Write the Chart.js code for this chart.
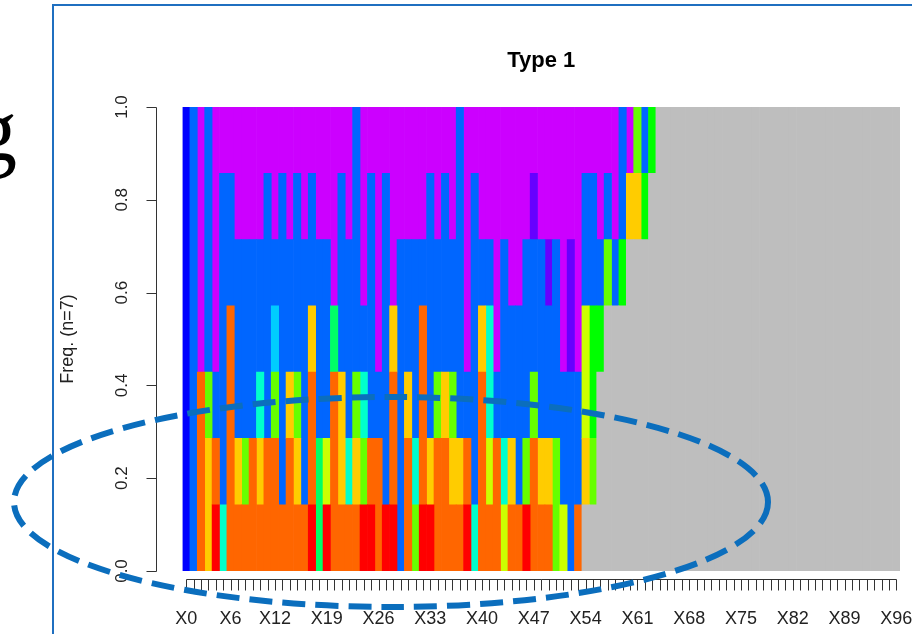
<!DOCTYPE html>
<html>
<head>
<meta charset="utf-8">
<title>Type 1</title>
<script src="https://cdn.jsdelivr.net/npm/chart.js@4.4.1/dist/chart.umd.min.js"></script>
<style>
  html, body { margin: 0; padding: 0; background: #fff; }
  #wrap { position: relative; width: 912px; height: 634px; overflow: hidden; }
  canvas { display: block; }
</style>
</head>
<body>
<div id="wrap"><canvas id="chart" width="912" height="634"></canvas></div>
<script>
// State alphabet, in stacking order (missing first), with its rainbow palette
const stateCodes  = ['*', 'a', 'b', 'c', 'd', 'e', 'f', 'g', 'h', 'i', 'j', 'k', 'l', 'm'];
const stateColors = ['#BEBEBE', '#FF0000', '#FF6600', '#FFCC00', '#CCFF00', '#66FF00', '#00FF00',
                     '#00FF66', '#00FFCC', '#00CCFF', '#0066FF', '#0000FF', '#6600FF', '#CC00FF'];

// Number of sequences
const nSeq = 7;

// States observed at each position X0..X96 (one character per sequence)
const positionStates = [
  'kkkkkkk', 'jjjjjjj', 'bbbmmmm', 'ccejjjj', 'abjmmmm', 'hjjjjjm', 'bbbbjjm', 'bcjjjmm',
  'bejjjmm', 'bbjjjmm', 'bchjjmm', 'bbjjjjm', 'bbeijmm', 'bjjjjjm', 'bbcjjmm', 'bcejjjm',
  'bjjjjmm', 'abbcjjm', 'ggjjjmm', 'adjjjmm', 'bbbgmmm', 'bccjjjm', 'bhjjjmm', 'bcejjjj',
  'aehjmmm', 'abjjjjm', 'bbjmmmm', 'ajjjjjm', 'abbcmmm', 'jjjjjmm', 'bbcjjmm', 'ehjjjmm',
  'abbbjmm', 'acjjjjm', 'bbejjmm', 'bbcjjjm', 'bcejjmm', 'bcjjjjj', 'abjmmmm', 'hjjjjjm',
  'bbbcjmm', 'bdhhjmm', 'bbjmmmm', 'dhjjjmm', 'bcjjmmm', 'bjjjmmm', 'aejjjmm', 'bbejjlm',
  'bcjjjmm', 'bcjjlmm', 'eejjjmm', 'djjmmmm', 'jjjllmm', 'bjjmmmm', '*cddjjm', '*effjjm',
  '***fjmm', '****ejm', '****jmm', '****fjj', '*****cm', '*****ce', '*****fj', '******f',
  '*******', '*******', '*******', '*******', '*******', '*******', '*******', '*******',
  '*******', '*******', '*******', '*******', '*******', '*******', '*******', '*******',
  '*******', '*******', '*******', '*******', '*******', '*******', '*******', '*******',
  '*******', '*******', '*******', '*******', '*******', '*******', '*******', '*******',
  '*******'
];

// Position names (categories)
const positions = positionStates.map((_, i) => 'X' + i);

// Labelled ticks on the position axis
const xTickLabels = ['X0', 'X6', 'X12', 'X19', 'X26', 'X33', 'X40', 'X47', 'X54',
                     'X61', 'X68', 'X75', 'X82', 'X89', 'X96'];
// Ticks on the frequency axis
const yTicks = [0, 0.2, 0.4, 0.6, 0.8, 1.0];

// Cross-sectional state frequencies, one dataset per state
const datasets = stateCodes.map((code, s) => ({
  label: code,
  data: positionStates.map(col => {
    const count = col.split('').filter(c => c === code).length;
    return count ? count / nSeq : null;
  }),
  backgroundColor: stateColors[s],
  borderWidth: 0,
  barPercentage: 1,
  categoryPercentage: 1,
  stack: 'freq'
}));

const AXIS_FONT = '"Liberation Sans", Arial, sans-serif';

// R-style axes, title, and slide decorations
const rStyle = {
  id: 'rStyle',
  afterDraw(chart) {
    const { ctx, chartArea, scales: { x, y } } = chart;
    ctx.save();

    // Title
    ctx.fillStyle = '#000';
    ctx.font = 'bold 22px ' + AXIS_FONT;
    ctx.textAlign = 'center';
    ctx.textBaseline = 'alphabetic';
    ctx.fillText('Type 1', (chartArea.left + chartArea.right) / 2, 67);

    ctx.strokeStyle = '#333';
    ctx.lineWidth = 1;
    ctx.fillStyle = '#222';

    // Frequency axis
    const yAxisX = Math.round(chartArea.left - 27) + 0.5;
    const y0 = y.getPixelForValue(0), y1 = y.getPixelForValue(1);
    ctx.beginPath();
    ctx.moveTo(yAxisX, Math.round(y0) + 0.5);
    ctx.lineTo(yAxisX, Math.round(y1) + 0.5);
    yTicks.forEach(v => {
      const py = Math.round(y.getPixelForValue(v)) + 0.5;
      ctx.moveTo(yAxisX - 10, py);
      ctx.lineTo(yAxisX, py);
    });
    ctx.stroke();
    ctx.font = '17px ' + AXIS_FONT;
    ctx.textAlign = 'center';
    ctx.textBaseline = 'middle';
    yTicks.forEach(v => {
      const py = y.getPixelForValue(v);
      ctx.save();
      ctx.translate(yAxisX - 34, py);
      ctx.rotate(-Math.PI / 2);
      ctx.fillText(v.toFixed(1), 0, 0);
      ctx.restore();
    });
    ctx.save();
    ctx.font = '18px ' + AXIS_FONT;
    ctx.translate(68, (y0 + y1) / 2);
    ctx.rotate(-Math.PI / 2);
    ctx.fillText('Freq. (n=' + nSeq + ')', 0, 0);
    ctx.restore();

    // Position axis
    const xAxisY = Math.round(chartArea.bottom + 8) + 0.5;
    const first = Math.round(x.getPixelForValue(0)) + 0.5;
    const last = Math.round(x.getPixelForValue(positions.length - 1)) + 0.5;
    ctx.beginPath();
    ctx.moveTo(first, xAxisY);
    ctx.lineTo(last, xAxisY);
    positions.forEach((_, i) => {
      const px = Math.round(x.getPixelForValue(i)) + 0.5;
      ctx.moveTo(px, xAxisY);
      ctx.lineTo(px, xAxisY + 11);
    });
    ctx.stroke();
    ctx.font = '18px ' + AXIS_FONT;
    ctx.textAlign = 'center';
    ctx.textBaseline = 'middle';
    positions.forEach((name, i) => {
      if (xTickLabels.includes(name)) {
        ctx.fillText(name, x.getPixelForValue(i), 619);
      }
    });

    // Slide frame
    ctx.strokeStyle = '#1F6FC0';
    ctx.lineWidth = 2;
    ctx.beginPath();
    ctx.moveTo(53, 634);
    ctx.lineTo(53, 5);
    ctx.lineTo(912, 5);
    ctx.stroke();

    // Slide heading fragment at the left edge
    ctx.fillStyle = '#000';
    ctx.font = '88px "Liberation Serif", "Times New Roman", serif';
    ctx.textAlign = 'left';
    ctx.textBaseline = 'alphabetic';
    ctx.fillText('g', -27, 160);

    // Dashed highlight ellipse
    ctx.strokeStyle = '#0B6EBD';
    ctx.lineWidth = 6;
    ctx.setLineDash([23, 10]);
    ctx.beginPath();
    ctx.ellipse(391, 502, 377, 105, 0, 0, Math.PI * 2);
    ctx.stroke();

    ctx.restore();
  }
};

new Chart(document.getElementById('chart'), {
  type: 'bar',
  data: { labels: positions, datasets },
  options: {
    responsive: false,
    animation: false,
    devicePixelRatio: 1,
    layout: { padding: { left: 182.5, right: 12, top: 107, bottom: 63 } },
    plugins: { legend: { display: false }, tooltip: { enabled: false }, title: { display: false } },
    scales: {
      x: { display: false, stacked: true },
      y: { display: false, stacked: true, min: 0, max: 1 }
    }
  },
  plugins: [rStyle]
});
</script>
</body>
</html>
